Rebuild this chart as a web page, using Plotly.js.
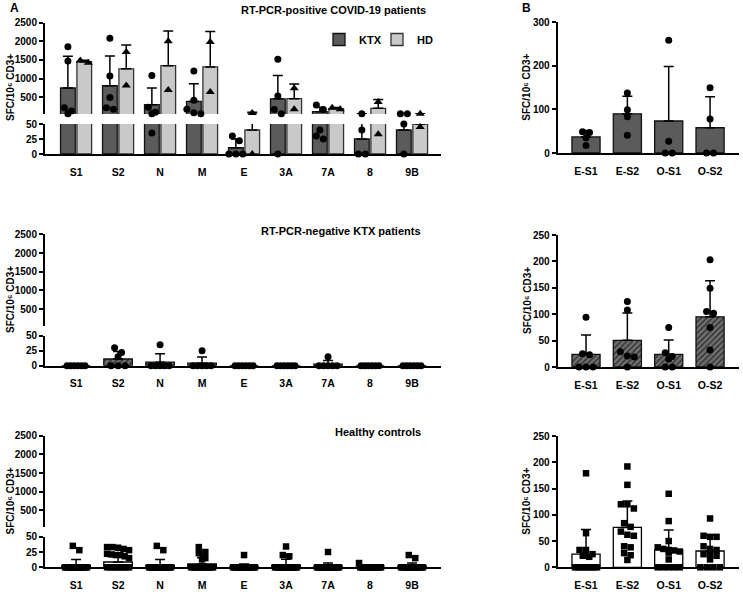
<!DOCTYPE html>
<html><head><meta charset="utf-8">
<script src="https://cdn.plot.ly/plotly-3.0.1.min.js"></script>
<style>html,body{margin:0;padding:0;background:#fff}#chart{width:743px;height:592px}</style>
</head><body><div id="chart"></div>
<script>
// ---------------- DATA ----------------
const categoriesA = ['S1','S2','N','M','E','3A','7A','8','9B'];
const categoriesB = ['E-S1','E-S2','O-S1','O-S2'];

// Panel A, row 1: RT-PCR-positive COVID-19 patients (KTX vs HD)
const posKtxMean = [746, 807, 301, 387, 10.4, 455, 111, 25, 40];
const posKtxSD   = [847, 796, 442, 476, 14.5, 627, 117, 30, 27];
const posKtxPts  = [[1850,1470,220,130,60],[2080,1070,490,220,175],[1080,230,100,60,35],[1200,420,175,85,55],[30,22,0,0,0],[1514,530,170,60,0],[290,170,40,30,25],[60,40,0,0],[55,55,50,0]];
const posHdMean  = [1450, 1260, 1345, 1310, 40, 460, 195, 201, 50];
const posHdSD    = [42, 636, 926, 948, 57, 396, 28, 238, 7];
const posHdPts   = [[1420,1480],[1710,810],[2000,690],[1980,640],[80,0],[740,180],[215,175],[370,33],[55,45]];

// Panel A, row 2: RT-PCR-negative KTX patients
const negMean = [0, 11.2, 5.8, 4.2, 0, 0, 2.5, 0, 0];
const negSD   = [0, 12.6, 14.3, 10.2, 0, 0, 6.1, 0, 0];
const negPts  = [[0,0,0,0,0,0],[30,22,15,0,0,0],[35,0,0,0,0,0],[25,0,0,0,0,0],[0,0,0,0,0,0],[0,0,0,0,0,0],[15,0,0,0,0,0],[0,0,0,0,0,0],[0,0,0,0,0,0]];

// Panel A, row 3: Healthy controls
const hcMean = [3.2, 8.7, 3.2, 5.5, 1.0, 3.6, 1.3, 0.4, 1.8];
const hcSD   = [9.7, 9.0, 9.7, 10.0, 4.5, 9.5, 5.6, 1.6, 5.4];
const hcPts  = [
  [35,28,0,0,0,0,0,0,0,0,0,0,0,0,0,0,0,0,0,0],
  [33,33,32,30,28,22,21,20,20,18,15,0,0,0,0,0,0,0,0,0],
  [35,28,0,0,0,0,0,0,0,0,0,0,0,0,0,0,0,0,0,0],
  [33,25,23,15,13,0,0,0,0,0,0,0,0,0,0,0,0,0,0,0],
  [20,0,0,0,0,0,0,0,0,0,0,0,0,0,0,0,0,0,0,0],
  [34,20,18,0,0,0,0,0,0,0,0,0,0,0,0,0,0,0,0,0],
  [25,0,0,0,0,0,0,0,0,0,0,0,0,0,0,0,0,0,0,0],
  [7,0,0,0,0,0,0,0,0,0,0,0,0,0,0,0,0,0,0,0],
  [20,15,0,0,0,0,0,0,0,0,0,0,0,0,0,0,0,0,0,0]
];

// Panel B
const bPosMean = [37, 90, 73.5, 58];
const bPosSD   = [14.8, 40, 125, 71];
const bPosPts  = [[49,47,35,17],[138,99,83,41],[259,27,0,0],[150,78,0,0]];
const bNegMean = [24, 50.5, 24, 95];
const bNegSD   = [36.5, 52, 27, 68.5];
const bNegPts  = [[94,25,23,0,0,0],[124,108,29,21,19,0],[75,27,20,15,0,0],[203,149,105,102,75,32,0]];
const bHcMean  = [25, 76, 33, 31];
const bHcSD    = [47, 50, 38, 30];
const bHcPts   = [
  [179,65,33,33,25,22,20,0,0,0,0,0,0,0,0],
  [192,157,120,120,112,84,77,68,62,60,40,38,27,23,14],
  [140,88,50,38,35,33,32,30,28,15,0,0,0,0,0],
  [93,60,58,58,40,35,33,25,23,22,15,0,0,0,0]
];

// ---------------- LAYOUT GEOMETRY (pixels) ----------------
const W = 743, H = 592;
const FONT = '"Liberation Sans", Arial, sans-serif';
const BREAK = 50, TOP = 2500;
const A_X = [45, 441], A_XR = [-0.74, 8.69];
const B_X = [557.7, 739], B_XR = [-0.685, 3.70];
const A_ROWS = [
  {lower:[124,154], upper:[22.5,114]},
  {lower:[335.7,365.7], upper:[234.3,326]},
  {lower:[536.7,567.3], upper:[435.7,527.2]}
];
const B_ROWS = [
  {dom:[22.3,153], range:[0,300], dtick:100},
  {dom:[235,367], range:[0,250], dtick:50},
  {dom:[436,567.3], range:[0,250], dtick:50}
];
const pxPerXA = (A_X[1]-A_X[0])/(A_XR[1]-A_XR[0]);
const pxPerXB = (B_X[1]-B_X[0])/(B_XR[1]-B_XR[0]);

const xdom = p => [p[0]/W, p[1]/W];
const ydom = p => [1-p[1]/H, 1-p[0]/H];

function brokenToPx(row){
  return v => v <= BREAK
    ? row.lower[1] - v/BREAK*(row.lower[1]-row.lower[0])
    : row.upper[1] - (v-BREAK)/(TOP-BREAK)*(row.upper[1]-row.upper[0]);
}
function linToPx(row){
  return v => row.dom[1] - (v-row.range[0])/(row.range[1]-row.range[0])*(row.dom[1]-row.dom[0]);
}

// beeswarm-like horizontal spreading of points (pixel offsets)
function swarm(vals, toPx, d, halfW){
  const order = vals.map((v,i)=>i).sort((a,b)=>toPx(vals[a])-toPx(vals[b]));
  const offs = new Array(vals.length).fill(0);
  let cl = [], startY = null;
  const flush = () => {
    const k = cl.length;
    const s = k>1 ? Math.min(d, 2*halfW/(k-1)) : 0;
    cl.forEach((i,j)=>{ offs[i] = (j-(k-1)/2)*s; });
  };
  order.forEach(i => {
    const y = toPx(vals[i]);
    if (startY === null || y - startY >= d*0.8){ if (cl.length) flush(); cl = []; startY = y; }
    cl.push(i);
  });
  if (cl.length) flush();
  return offs;
}

const traces = [];
// seg: 'lower' | 'upper' | 'full'
function bars(cats, means, sds, xa, ya, offset, width, style, name, showlegend, seg){
  let y = means.slice(), color = style.color, lw = style.line.width;
  if (seg === 'upper'){
    // upper part of a broken axis: only bars/error bars that reach above the break
    y = means.map((m,i) => (m + sds[i] > BREAK) ? m : null);
    color = means.map(m => m > BREAK ? style.color : 'rgba(0,0,0,0)');
    lw = means.map(m => m > BREAK ? style.line.width : 0);
  }
  const marker = Object.assign({}, style, {color: color, line: {color: style.line.color, width: lw}});
  traces.push({type:'bar', x: cats.map((c,i)=>i), y: y, xaxis: xa, yaxis: ya,
    offset: offset, width: width, marker: marker, name: name, showlegend: !!showlegend,
    legendgroup: name, hoverinfo: 'skip',
    error_y: {type:'data', symmetric:false, array: sds, arrayminus: sds.map(()=>0),
      color:'#000', thickness:1.5, width:5}});
}
function points(ptsList, center, toPx, pxPerX, halfW, xa, yaLo, yaHi, symbol, size){
  const lo = {x:[], y:[]}, hi = {x:[], y:[]};
  ptsList.forEach((pts, ci) => {
    const offs = swarm(pts, toPx, size, halfW);
    pts.forEach((v,k) => {
      const xv = ci + center + offs[k]/pxPerX;
      if (yaHi && v > BREAK){ hi.x.push(xv); hi.y.push(v); } else { lo.x.push(xv); lo.y.push(v); }
    });
  });
  const mk = {color:'#000', symbol: symbol, size: size, line:{width:0}};
  traces.push({type:'scatter', mode:'markers', x: lo.x, y: lo.y, xaxis: xa, yaxis: yaLo, marker: mk, cliponaxis:false, showlegend:false, hoverinfo:'skip'});
  if (yaHi) traces.push({type:'scatter', mode:'markers', x: hi.x, y: hi.y, xaxis: xa, yaxis: yaHi, marker: mk, cliponaxis:false, showlegend:false, hoverinfo:'skip'});
}

const dark = {color:'#5b5b5b', line:{color:'#111', width:1.3}};
const light = {color:'#c9c9c9', line:{color:'#333', width:1.3}};
const hatch = {color:'#6a6a6a', line:{color:'#111', width:1.3},
  pattern:{shape:'/', bgcolor:'#707070', fgcolor:'#2e2e2e', size:4, solidity:0.35}};
const white = {color:'#ffffff', line:{color:'#000', width:1.3}};

// Row 1 A
bars(categoriesA, posKtxMean, posKtxSD, 'x', 'y', -0.37, 0.35, dark, 'KTX', true, 'lower');
bars(categoriesA, posHdMean, posHdSD, 'x', 'y', 0.02, 0.35, light, 'HD', true, 'lower');
bars(categoriesA, posKtxMean, posKtxSD, 'x', 'y2', -0.37, 0.35, dark, 'KTX', false, 'upper');
bars(categoriesA, posHdMean, posHdSD, 'x', 'y2', 0.02, 0.35, light, 'HD', false, 'upper');
points(posKtxPts, -0.195, brokenToPx(A_ROWS[0]), pxPerXA, 7, 'x', 'y', 'y2', 'circle', 7);
points(posHdPts, 0.195, brokenToPx(A_ROWS[0]), pxPerXA, 7, 'x', 'y', 'y2', 'triangle-up', 8);
// Row 2 A
bars(categoriesA, negMean, negSD, 'x2', 'y3', -0.34, 0.68, hatch, 'neg', false, 'lower');
bars(categoriesA, negMean, negSD, 'x2', 'y4', -0.34, 0.68, hatch, 'neg', false, 'upper');
points(negPts, 0, brokenToPx(A_ROWS[1]), pxPerXA, 9, 'x2', 'y3', 'y4', 'circle', 7);
// Row 3 A
bars(categoriesA, hcMean, hcSD, 'x3', 'y5', -0.34, 0.68, white, 'hc', false, 'lower');
bars(categoriesA, hcMean, hcSD, 'x3', 'y6', -0.34, 0.68, white, 'hc', false, 'upper');
points(hcPts, 0, brokenToPx(A_ROWS[2]), pxPerXA, 11, 'x3', 'y5', 'y6', 'square', 6.5);
// Panel B
bars(categoriesB, bPosMean, bPosSD, 'x4', 'y7', -0.34, 0.68, dark, 'bpos', false, 'full');
points(bPosPts, 0, linToPx(B_ROWS[0]), pxPerXB, 9, 'x4', 'y7', null, 'circle', 7);
bars(categoriesB, bNegMean, bNegSD, 'x5', 'y8', -0.34, 0.68, hatch, 'bneg', false, 'full');
points(bNegPts, 0, linToPx(B_ROWS[1]), pxPerXB, 10, 'x5', 'y8', null, 'circle', 7);
bars(categoriesB, bHcMean, bHcSD, 'x6', 'y9', -0.34, 0.68, white, 'bhc', false, 'full');
points(bHcPts, 0, linToPx(B_ROWS[2]), pxPerXB, 11, 'x6', 'y9', null, 'square', 6.5);

// ---------------- AXES ----------------
const tickFont = {family: FONT, size: 10, color:'#000', weight:'bold'};
const xTickFont = {family: FONT, size: 10.5, color:'#000', weight:'bold'};
function xAxis(px, range, cats, anchor){
  return {domain: xdom(px), range: range, anchor: anchor, showline:true, linewidth:2, linecolor:'#000',
    tickmode:'array', tickvals: cats.map((c,i)=>i), ticktext: cats, ticks:'outside', ticklen:7,
    tickcolor:'rgba(0,0,0,0)', tickfont: xTickFont, showgrid:false, zeroline:false, fixedrange:true};
}
function yAxis(px, range, tickvals, anchor){
  return {domain: ydom(px), range: range, anchor: anchor, showline:true, linewidth:2, linecolor:'#000',
    tickmode:'array', tickvals: tickvals, ticks:'outside', ticklen:4, tickwidth:2, tickcolor:'#000',
    tickfont: tickFont, showgrid:false, zeroline:false, fixedrange:true};
}
const lowTicks = [0,25,50], highTicks = [500,1000,1500,2000,2500];
const layout = {
  width: W, height: H, margin:{l:0,r:0,t:0,b:0}, paper_bgcolor:'#fff', plot_bgcolor:'rgba(0,0,0,0)',
  barmode:'overlay', font:{family: FONT, color:'#000'},
  xaxis:  xAxis(A_X, A_XR, categoriesA, 'y'),
  yaxis:  yAxis(A_ROWS[0].lower, [0,BREAK], lowTicks, 'x'),
  yaxis2: yAxis(A_ROWS[0].upper, [BREAK,TOP], highTicks, 'x'),
  xaxis2: xAxis(A_X, A_XR, categoriesA, 'y3'),
  yaxis3: yAxis(A_ROWS[1].lower, [0,BREAK], lowTicks, 'x2'),
  yaxis4: yAxis(A_ROWS[1].upper, [BREAK,TOP], highTicks, 'x2'),
  xaxis3: xAxis(A_X, A_XR, categoriesA, 'y5'),
  yaxis5: yAxis(A_ROWS[2].lower, [0,BREAK], lowTicks, 'x3'),
  yaxis6: yAxis(A_ROWS[2].upper, [BREAK,TOP], highTicks, 'x3'),
  xaxis4: xAxis(B_X, B_XR, categoriesB, 'y7'),
  yaxis7: Object.assign(yAxis(B_ROWS[0].dom, B_ROWS[0].range, null, 'x4'), {tickmode:'linear', tick0:0, dtick:B_ROWS[0].dtick}),
  xaxis5: xAxis(B_X, B_XR, categoriesB, 'y8'),
  yaxis8: Object.assign(yAxis(B_ROWS[1].dom, B_ROWS[1].range, null, 'x5'), {tickmode:'linear', tick0:0, dtick:B_ROWS[1].dtick}),
  xaxis6: xAxis(B_X, B_XR, categoriesB, 'y9'),
  yaxis9: Object.assign(yAxis(B_ROWS[2].dom, B_ROWS[2].range, null, 'x6'), {tickmode:'linear', tick0:0, dtick:B_ROWS[2].dtick}),
  showlegend: true,
  legend: {orientation:'h', x: 319/W, y: 1-25/H, xanchor:'left', yanchor:'top',
    font:{family: FONT, size:11, color:'#000', weight:'bold'}, itemwidth:30, entrywidth:13, entrywidthmode:'pixels',
    bgcolor:'rgba(0,0,0,0)', tracegroupgap:0},
  annotations: []
};

const titleFont = {family: FONT, size: 11, color:'#000', weight:'bold'};
const ytitle = 'SFC/10\u2076 CD3+';
function ann(text, x, y, opts){
  layout.annotations.push(Object.assign({text: text, x: x/W, y: 1-y/H, xref:'paper', yref:'paper',
    showarrow:false, font: titleFont, xanchor:'center', yanchor:'middle'}, opts||{}));
}
ann('A', 8, 8, {xanchor:'left', font:{family:FONT, size:12, color:'#000', weight:'bold'}});
ann('B', 520, 8, {xanchor:'left', font:{family:FONT, size:12, color:'#000', weight:'bold'}});
ann('RT-PCR-positive COVID-19 patients', 428, 10, {xanchor:'right'});
ann('RT-PCR-negative KTX patients', 423, 231, {xanchor:'right'});
ann('Healthy controls', 423, 432, {xanchor:'right'});
[88, 300, 501.5].forEach(y => ann(ytitle, 10, y, {textangle:-90, font:{family:FONT, size:10, color:'#000', weight:'bold'}}));
[87.7, 301, 501.7].forEach(y => ann(ytitle, 527, y, {textangle:-90, font:{family:FONT, size:10, color:'#000', weight:'bold'}}));

Plotly.newPlot('chart', traces, layout, {staticPlot:true, displayModeBar:false});
</script></body></html>
